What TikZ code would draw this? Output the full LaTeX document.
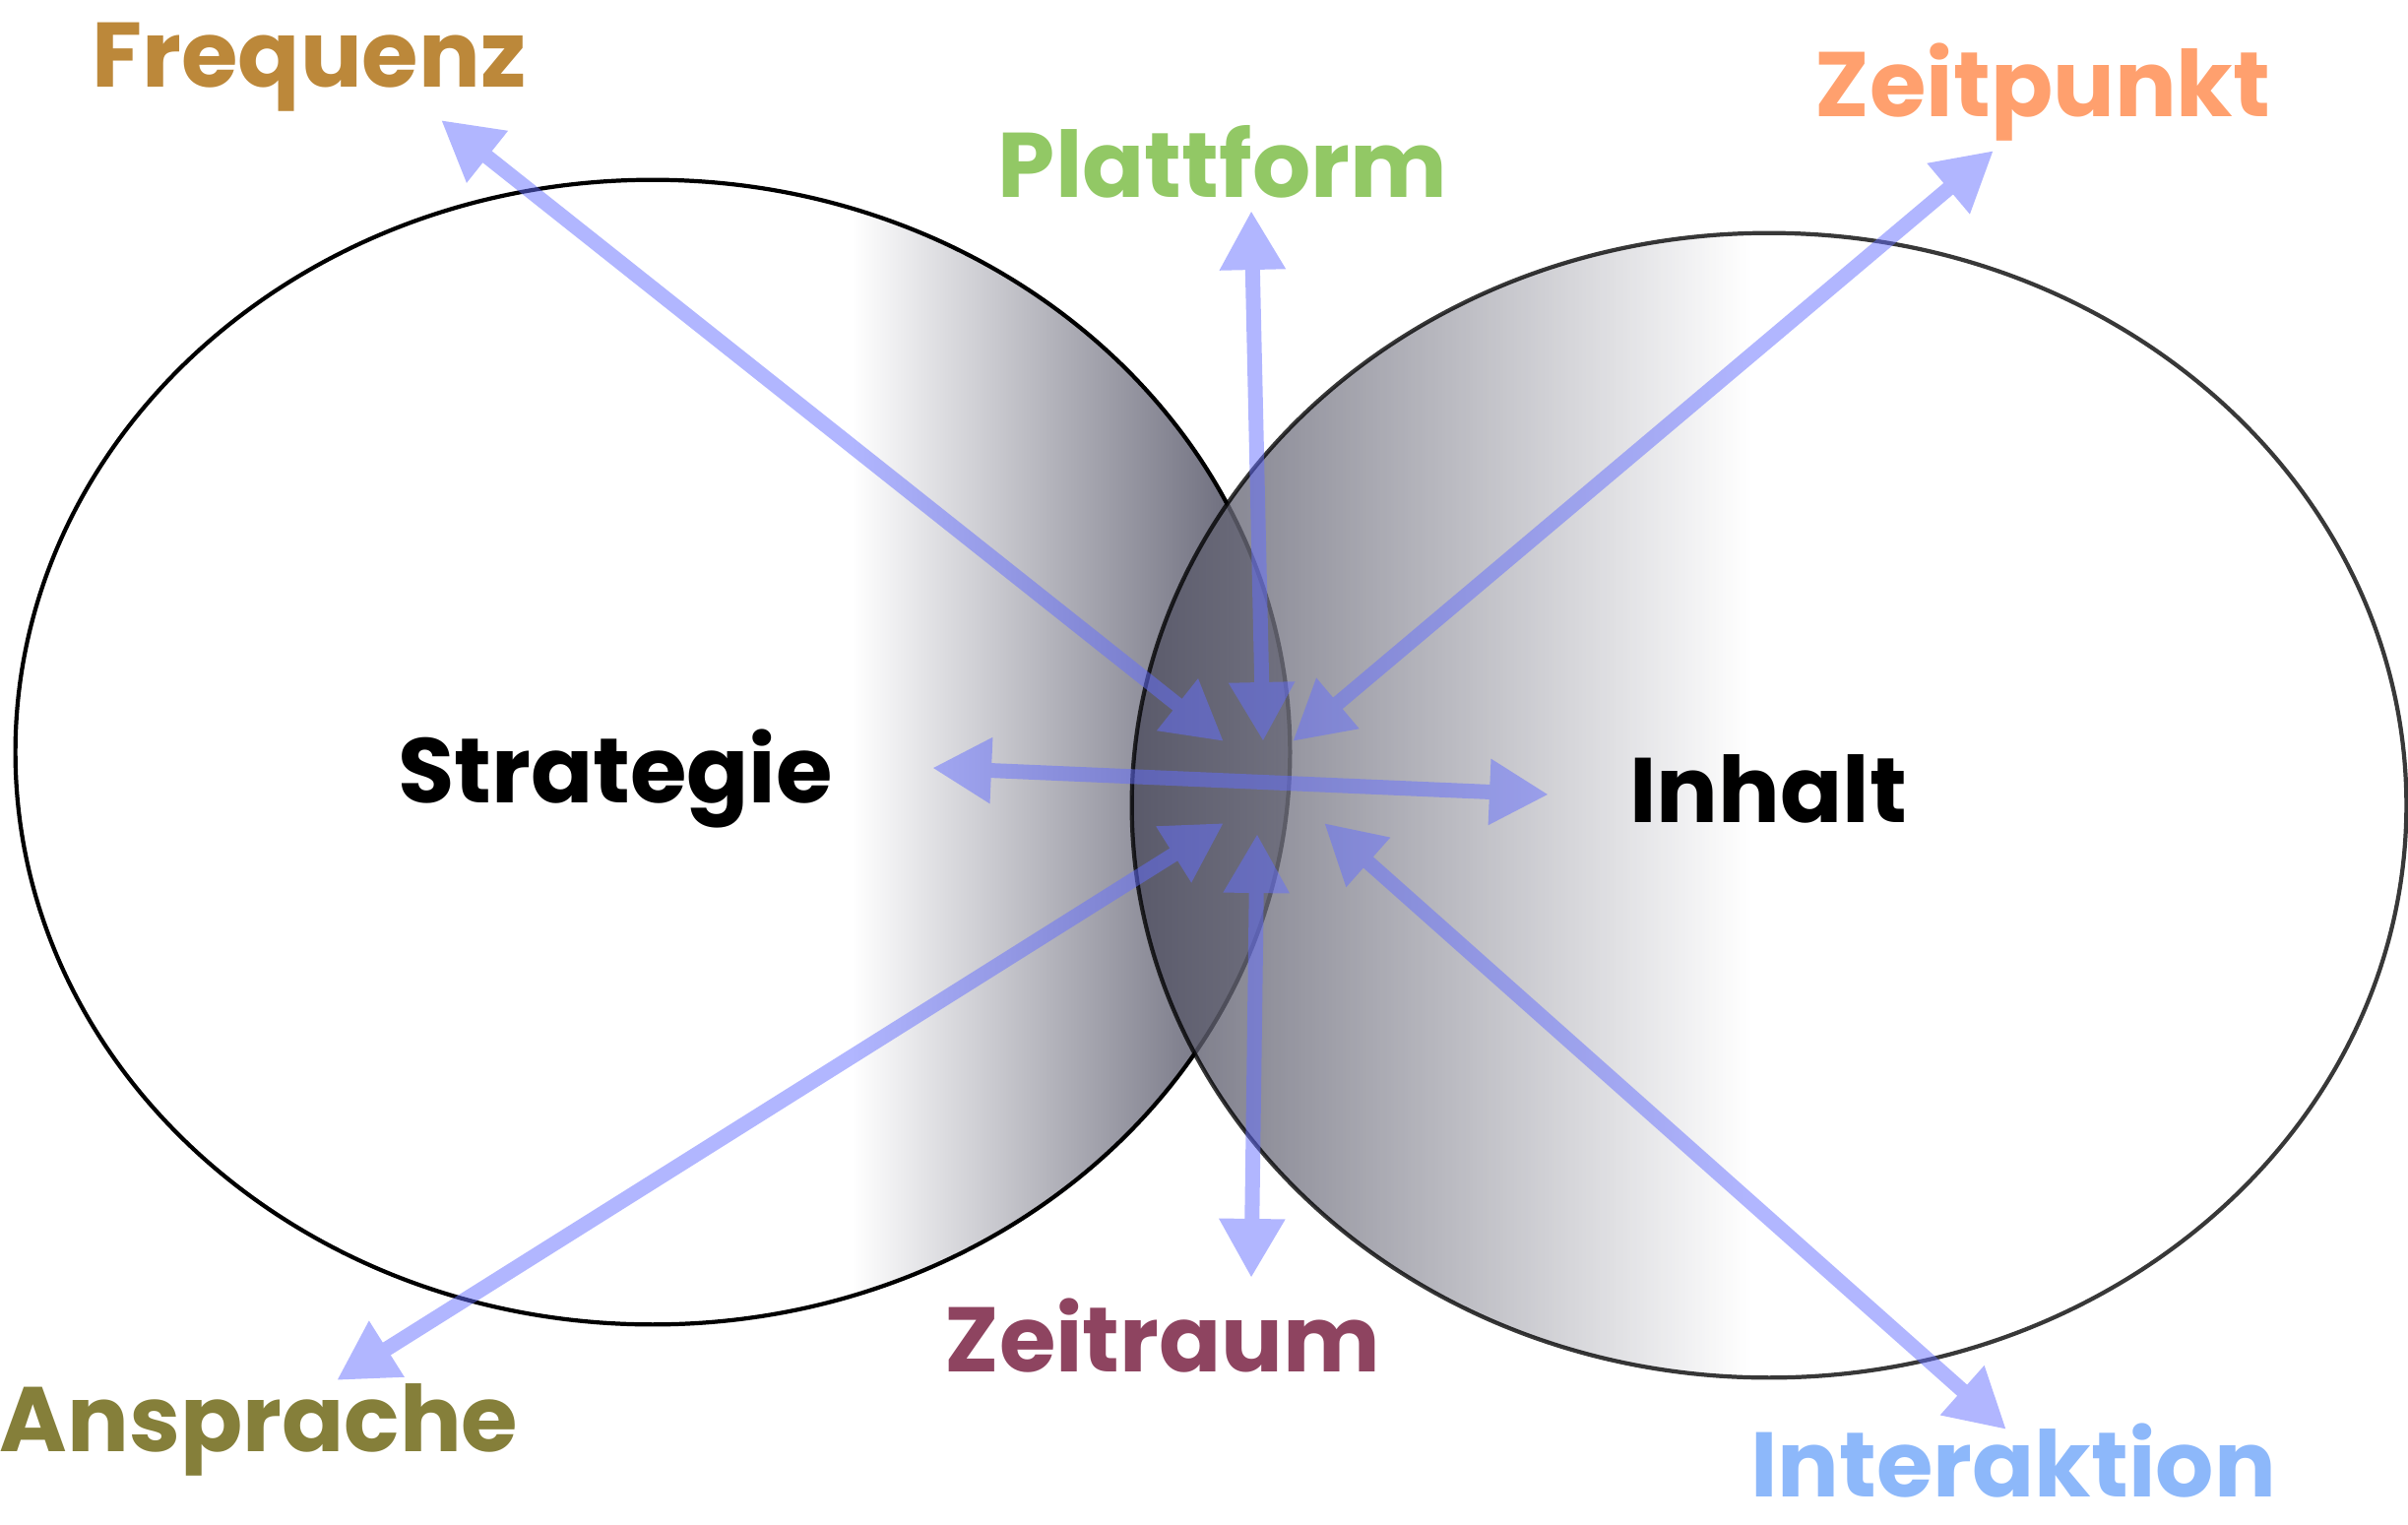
\documentclass[tikz,border=0pt]{standalone}
\usepackage{fontspec}
\setmainfont{Poppins}
\usetikzlibrary{arrows.meta,shapes.geometric}
\definecolor{ldark}{RGB}{88,88,106}
\definecolor{rdark}{RGB}{74,74,92}
\definecolor{linkblue}{RGB}{100,110,255}
\definecolor{cfreq}{RGB}{188,136,58}
\definecolor{cplat}{RGB}{146,200,101}
\definecolor{czeit}{RGB}{255,160,110}
\definecolor{cansp}{RGB}{133,127,58}
\definecolor{craum}{RGB}{142,68,96}
\definecolor{cinter}{RGB}{141,184,250}
\pgfdeclarehorizontalshading{leftfade}{100bp}{color(0bp)=(white); color(57.8bp)=(white); color(75bp)=(ldark); color(100bp)=(ldark)}
\pgfdeclarehorizontalshading{rightfade}{100bp}{color(0bp)=(rdark); color(25bp)=(rdark); color(49.3bp)=(white); color(100bp)=(white)}
\begin{document}
\begin{tikzpicture}[x=0.01cm, y=-0.01cm,
	blob/.style={ellipse, draw, line width=1.2pt, minimum width=12.94cm, minimum height=11.62cm, inner sep=0pt},
	lbl/.style={font=\fontsize{26.5}{30}\selectfont\bfseries, anchor=base, inner sep=0pt},
	link/.style={draw=linkblue, line width=0.15cm, {Triangle[length=0.6cm,width=0.63cm]}-{Triangle[length=0.6cm,width=0.63cm]}}]
	\useasboundingbox (0,0) rectangle (2446,1548);
%	\draw[help lines, step=100] (0,0) grid (2446,1548);
	\node[blob, shade, shading=leftfade] (strat) at (663,764) {};
	\node[blob, shade, shading=rightfade, opacity=0.78] (inh) at (1797,818) {};
	\node[lbl] (strat-lbl) at (625,815) {Strategie};
	\node[lbl] (inh-lbl) at (1796,835) {Inhalt};
	\node[lbl, text=cfreq] (frq) at (314,88) {Frequenz};
	\node[lbl, text=cplat] (plt) at (1242,200) {Plattform};
	\node[lbl, text=czeit] (zpk) at (2075,118) {Zeitpunkt};
	\node[lbl, text=cansp] (asp) at (263,1474) {Ansprache};
	\node[lbl, text=craum] (zrm) at (1181,1393) {Zeitraum};
	\node[lbl, text=cinter] (int) at (2045,1520) {Interaktion};
	% arrow ends
	\coordinate (frq-a) at (448,122);   \coordinate (frq-b) at (1243,753);
	\coordinate (plt-a) at (1271,214);  \coordinate (plt-b) at (1283,753);
	\coordinate (zpk-a) at (2025,153);  \coordinate (zpk-b) at (1313,753);
	\coordinate (mid-a) at (947,780);   \coordinate (mid-b) at (1573,807);
	\coordinate (asp-a) at (342,1402);  \coordinate (asp-b) at (1243,836);
	\coordinate (zrm-a) at (1271,1298); \coordinate (zrm-b) at (1277,847);
	\coordinate (int-a) at (2038,1452); \coordinate (int-b) at (1345,836);
	\begin{scope}[transparency group, opacity=0.5]
		\draw[link] (frq-a) -- (frq-b);
		\draw[link] (plt-a) -- (plt-b);
		\draw[link] (zpk-a) -- (zpk-b);
		\draw[link] (mid-a) -- (mid-b);
		\draw[link] (asp-a) -- (asp-b);
		\draw[link] (zrm-a) -- (zrm-b);
		\draw[link] (int-a) -- (int-b);
	\end{scope}
\end{tikzpicture}
\end{document}
